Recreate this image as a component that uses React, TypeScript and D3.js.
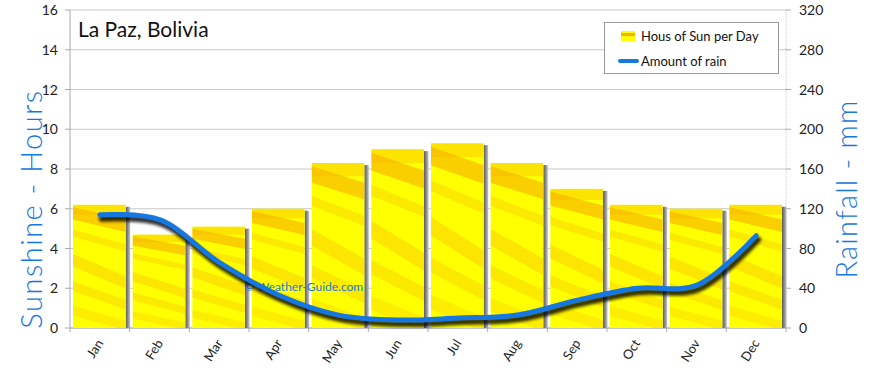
import React from "react";
import * as d3 from "d3";

const months = ["Jan", "Feb", "Mar", "Apr", "May", "Jun", "Jul", "Aug", "Sep", "Oct", "Nov", "Dec"];
const sunHours = [6.2, 4.7, 5.1, 6.0, 8.3, 9.0, 9.3, 8.3, 7.0, 6.2, 6.0, 6.2];
const rainMm = [114, 109, 66, 33, 13, 8, 10, 13, 28, 40, 43, 93];
const leftTicks = [0, 2, 4, 6, 8, 10, 12, 14, 16];
const rightTicks = [0, 40, 80, 120, 160, 200, 240, 280, 320];

const W = 870, H = 368;
const L = 70, R = 786, T = 10, B = 328;
const FONT = "Lato, 'Open Sans', sans-serif";
const BLUE = "#1677e0";

export default function App() {
  const x = d3.scaleBand<string>().domain(months).range([L, R]).padding(0);
  const bw = x.bandwidth();
  const yL = d3.scaleLinear().domain([0, 16]).range([B, T]);
  const yR = d3.scaleLinear().domain([0, 320]).range([B, T]);

  const pts: [number, number][] = months.map((m, i) => [x(m)! + bw / 2, yR(rainMm[i])]);
  const line = d3.line().curve(d3.curveCatmullRom.alpha(0.5))(pts) || "";

  const stripes = [
    { y0: 0.02, y1: 0.12, s: 0.1, o: 0.55 },
    { y0: 0.2, y1: 0.26, s: 0.12, o: 0.25 },
    { y0: 0.4, y1: 0.5, s: 0.18, o: 0.3 },
    { y0: 0.62, y1: 0.7, s: 0.15, o: 0.25 },
    { y0: 0.82, y1: 0.9, s: 0.12, o: 0.2 },
  ];

  return (
    <svg width={W} height={H} style={{ position: "absolute", left: 0, top: 0, background: "#fff" }}>
      <defs>
        <linearGradient id="shadowG" x1="0" x2="1" y1="0" y2="0">
          <stop offset="0" stopColor="#5a5a5a" />
          <stop offset="0.5" stopColor="#8a8a8a" />
          <stop offset="1" stopColor="#c4c4c4" />
        </linearGradient>
        <filter id="blur" x="-10%" y="-50%" width="120%" height="200%">
          <feGaussianBlur stdDeviation="1.6" />
        </filter>
        {months.map((m, i) => (
          <clipPath id={"clip" + i} key={m}>
            <rect x={x(m)! + 3} y={yL(sunHours[i])} width={bw - 7} height={B - yL(sunHours[i])} />
          </clipPath>
        ))}
      </defs>

      {leftTicks.map((t) => (
        <line key={t} x1={L} x2={R} y1={yL(t)} y2={yL(t)} stroke="#c8c8c8" strokeWidth={1} />
      ))}
      <line x1={L} x2={L} y1={T} y2={B} stroke="#aaa" />
      <line x1={R} x2={R} y1={T} y2={B} stroke="#c8c8c8" strokeDasharray="1,1" />
      <line x1={L} x2={R} y1={B} y2={B} stroke="#aaa" />
      {leftTicks.map((t) => (
        <g key={"l" + t}>
          <line x1={L - 5} x2={L} y1={yL(t)} y2={yL(t)} stroke="#aaa" />
          <text x={L - 12} y={yL(t) + 5} textAnchor="end" fontSize={14} fontFamily={FONT} fill="#222">{t}</text>
        </g>
      ))}
      {rightTicks.map((t) => (
        <g key={"r" + t}>
          <line x1={R} x2={R + 5} y1={yR(t)} y2={yR(t)} stroke="#aaa" />
          <text x={R + 13} y={yR(t) + 5} textAnchor="start" fontSize={14} fontFamily={FONT} fill="#222">{t}</text>
        </g>
      ))}
      {months.map((m) => (
        <line key={"xt" + m} x1={x(m)!} x2={x(m)!} y1={B} y2={B + 4} stroke="#aaa" />
      ))}
      <line x1={R} x2={R} y1={B} y2={B + 4} stroke="#aaa" />

      {months.map((m, i) => {
        const bx = x(m)! + 3;
        const by = yL(sunHours[i]);
        const w = bw - 7;
        const h = B - by;
        return (
          <g key={"b" + m}>
            <rect x={bx + w} y={by + 2} width={4.5} height={B - by - 2} fill="url(#shadowG)" />
            <rect x={bx} y={by} width={w} height={h} fill="#ffff00" />
            <g clipPath={`url(#clip${i})`}>
              {stripes.map((s, k) => {
                const ya = by + s.y0 * h;
                const yb = by + s.y1 * h;
                const d = s.s * h;
                return (
                  <path
                    key={k}
                    d={`M${bx},${ya} L${bx + w},${ya + d} L${bx + w},${yb + d} L${bx},${yb} Z`}
                    fill="#f5a800"
                    opacity={s.o}
                  />
                );
              })}
              <rect x={bx} y={by} width={w} height={Math.min(14, h * 0.08)} fill="#f7b200" opacity={0.35} />
            </g>
          </g>
        );
      })}

      <text x={244} y={291} fontSize={12} fontFamily={FONT} fill={BLUE}>© Weather-Guide.com</text>

      <path d={line} fill="none" stroke="#000" strokeWidth={6} opacity={0.8} transform="translate(2,4)" filter="url(#blur)" strokeLinecap="round" />
      <path d={line} fill="none" stroke={BLUE} strokeWidth={5} strokeLinecap="round" />

      {months.map((m) => {
        const cx = x(m)! + bw / 2;
        return (
          <text key={"xl" + m} transform={`translate(${cx + 4},${B + 15}) rotate(-58)`} textAnchor="end" fontSize={13} fontFamily={FONT} fill="#222">
            {m}
          </text>
        );
      })}

      <text x={78} y={37} fontSize={21} fontFamily={FONT} fill="#111">La Paz, Bolivia</text>

      <text transform={`translate(42,${(T + B) / 2 + 40}) rotate(-90)`} textAnchor="middle" fontSize={29} fontWeight={300} letterSpacing={1.5} fontFamily={FONT} fill={BLUE}>Sunshine - Hours</text>
      <text transform={`translate(857,${(T + B) / 2 + 20}) rotate(-90)`} textAnchor="middle" fontSize={29} fontWeight={300} letterSpacing={1.2} fontFamily={FONT} fill={BLUE}>Rainfall - mm</text>

      <rect x={604.5} y={22.5} width={174} height={51} fill="#fff" stroke="#999" />
      <rect x={621} y={31} width={14} height={10} fill="#ffff00" />
      <rect x={621} y={33} width={14} height={3} fill="#f5b000" />
      <text x={641} y={41} fontSize={13} fontFamily={FONT} fill="#111">Hous of Sun per Day</text>
      <line x1={620} x2={637} y1={61} y2={61} stroke={BLUE} strokeWidth={4} strokeLinecap="round" />
      <text x={641} y={66} fontSize={13} fontFamily={FONT} fill="#111">Amount of rain</text>
    </svg>
  );
}
